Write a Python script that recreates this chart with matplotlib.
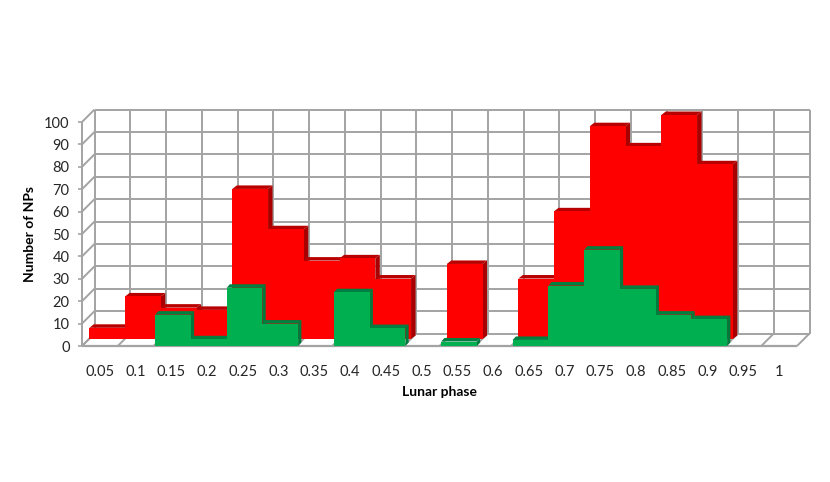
import matplotlib
import matplotlib.pyplot as plt
from matplotlib.patches import Polygon
matplotlib.use("Agg")

plt.rcParams['font.family'] = ['Lato', 'DejaVu Sans']

phases = ["0.05", "0.1", "0.15", "0.2", "0.25", "0.3", "0.35", "0.4", "0.45", "0.5",
          "0.55", "0.6", "0.65", "0.7", "0.75", "0.8", "0.85", "0.9", "0.95", "1"]
red_counts = [5, 19, 14, 13, 67, 49, 35, 36, 27, 0, 33.5, 0, 27, 57, 95, 86, 100, 78, 0, 0]
green_counts = [0, 0, 14, 3, 26, 10, 0, 24, 8, 0, 2, 0, 2.7, 27, 43, 25.5, 14, 12, 0, 0]
y_ticks = list(range(0, 101, 10))

# one pixel in data units
PX = 1 / 35.75
PY = 1 / 2.24
GRID = "#a3a3a3"

fig = plt.figure(figsize=(8.3, 4.82), dpi=100)
ax = fig.add_axes([82/830, (482-346)/482, 715/830, 224/482])
ax.set_xlim(0, len(phases))
ax.set_ylim(0, 100)
for s in ax.spines.values():
    s.set_visible(False)
ax.patch.set_visible(False)


def line(xs, ys, lw=1.4, color=GRID):
    ax.plot(xs, ys, color=color, lw=lw, clip_on=False, zorder=1, solid_capstyle="butt")


def walls():
    dx, dy = 12.5 * PX, 12.5 * PY
    n = len(phases)
    for v in y_ticks:
        line([dx, n + dx], [v + dy, v + dy])
        line([0, dx], [v, v + dy])
    for i in range(n + 1):
        line([i + dx, i + dx], [dy, 100 + dy])
        line([i, i + dx], [0, dy])
    line([0, 0], [0, 100])
    line([0, n], [0, 0], lw=1.6)


def bars(vals, sx, sy, dx, dy, face, top, side, z):
    for i, v in enumerate(vals):
        if v == 0:
            continue
        x0 = i + sx
        x1 = i + 1 + sx
        y1 = v + sy
        ax.add_patch(Polygon([(x0, y1), (x1, y1), (x1 + dx, y1 + dy), (x0 + dx, y1 + dy)],
                             fc=top, lw=0, clip_on=False, zorder=z))
        ax.add_patch(Polygon([(x1, sy), (x1, y1), (x1 + dx, y1 + dy), (x1 + dx, sy + dy)],
                             fc=side, lw=0, clip_on=False, zorder=z))
        ax.bar(x0, v, width=1, bottom=sy, align="edge", color=face, lw=0, clip_on=False, zorder=z + 0.1)


walls()
bars(red_counts, 7.3*PX, 7*PY, 4.5*PX, 3.5*PY, "#ff0000", "#b80000", "#a80000", 2)
bars(green_counts, 1.6*PX, 0, 3.3*PX, 3.5*PY, "#00b050", "#008040", "#007a3c", 4)

ax.set_xticks([i + 0.5 for i in range(len(phases))], phases)
ax.set_yticks(y_ticks)
ax.tick_params(axis="x", length=0, pad=14, labelsize=10.5, colors="#262626")
ax.tick_params(axis="y", length=3, width=1.2, color=GRID, pad=6, labelsize=10.5, labelcolor="#262626")
ax.set_xlim(0, len(phases))
ax.set_ylim(0, 100)

fig.text(439/830, 1 - 392/482, "Lunar phase", ha="center", va="center", fontsize=10, fontweight="bold")
fig.text(30/830, 1 - 234/482, "Number of NPs", ha="center", va="center", rotation=90, fontsize=10, fontweight="bold")

fig.savefig("out.png", dpi=100)
